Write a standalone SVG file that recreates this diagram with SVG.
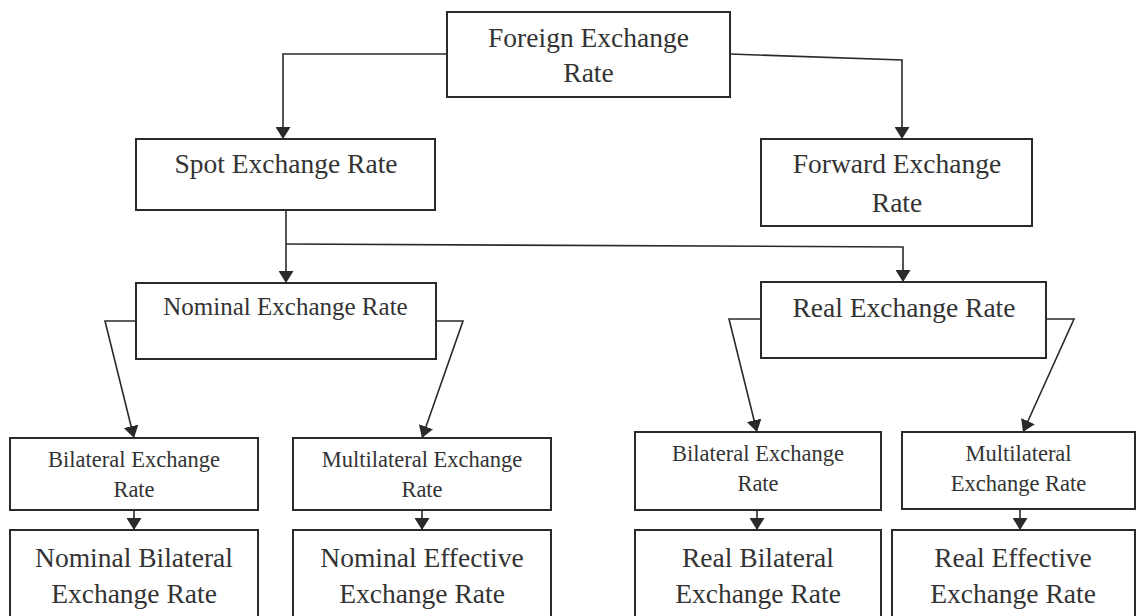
<svg xmlns="http://www.w3.org/2000/svg" width="1137" height="616" viewBox="0 0 1137 616">
<style>
.box{fill:#fff;stroke:#2a2a2a;stroke-width:2}
.t{font-family:"Liberation Serif","Times New Roman",serif;fill:#333;text-anchor:middle}
.big{font-size:27.5px}
.mid{font-size:25px}
.sm{font-size:22.5px}
.c{fill:none;stroke:#2a2a2a;stroke-width:1.6}
</style>
<defs>
<marker id="ah" markerUnits="userSpaceOnUse" markerWidth="13" markerHeight="15" refX="12" refY="7.5" orient="auto">
<path d="M0,0 L12,7.5 L0,15 Z" fill="#2a2a2a"/>
</marker>
</defs>
<rect width="1137" height="616" fill="#fff"/>
<g id="connectors">
<polyline class="c" points="447,54 283,54 283,139" marker-end="url(#ah)"/>
<polyline class="c" points="730,54 902,60 902,139" marker-end="url(#ah)"/>
<polyline class="c" points="286,210 286,283" marker-end="url(#ah)"/>
<polyline class="c" points="286,244 903,247 903,282" marker-end="url(#ah)"/>
<polyline class="c" points="136,321 105,321 134,438" marker-end="url(#ah)"/>
<polyline class="c" points="436,321 463,321 422,438" marker-end="url(#ah)"/>
<polyline class="c" points="761,319 729,319 757,432" marker-end="url(#ah)"/>
<polyline class="c" points="1046,319 1074,319 1023,432" marker-end="url(#ah)"/>
<line class="c" x1="134" y1="510" x2="134" y2="530" marker-end="url(#ah)"/>
<line class="c" x1="422" y1="510" x2="422" y2="530" marker-end="url(#ah)"/>
<line class="c" x1="757" y1="510" x2="757" y2="530" marker-end="url(#ah)"/>
<line class="c" x1="1020" y1="509" x2="1020" y2="530" marker-end="url(#ah)"/>
</g>
<g id="foreign">
<rect class="box" x="447" y="12" width="283" height="85"/>
<text class="t big" x="588.5" y="47">Foreign Exchange</text>
<text class="t big" x="588.5" y="82">Rate</text>
</g>
<g id="spot">
<rect class="box" x="136" y="139" width="299" height="71"/>
<text class="t big" x="286" y="173">Spot Exchange Rate</text>
</g>
<g id="forward">
<rect class="box" x="761" y="139" width="271" height="87"/>
<text class="t big" x="897" y="173">Forward Exchange</text>
<text class="t big" x="897" y="212">Rate</text>
</g>
<g id="nominal">
<rect class="box" x="136" y="283" width="300" height="76"/>
<text class="t mid" x="285.5" y="315">Nominal Exchange Rate</text>
</g>
<g id="real">
<rect class="box" x="761" y="282" width="285" height="76"/>
<text class="t big" x="904" y="317">Real Exchange Rate</text>
</g>
<g id="bilateral-nominal">
<rect class="box" x="10" y="438" width="248" height="72"/>
<text class="t sm" x="134" y="467">Bilateral Exchange</text>
<text class="t sm" x="134" y="497">Rate</text>
</g>
<g id="multilateral-nominal">
<rect class="box" x="293" y="438" width="258" height="72"/>
<text class="t sm" x="422" y="467">Multilateral Exchange</text>
<text class="t sm" x="422" y="497">Rate</text>
</g>
<g id="bilateral-real">
<rect class="box" x="635" y="432" width="246" height="78"/>
<text class="t sm" x="758" y="461">Bilateral Exchange</text>
<text class="t sm" x="758" y="491">Rate</text>
</g>
<g id="multilateral-real">
<rect class="box" x="902" y="432" width="233" height="77"/>
<text class="t sm" x="1018.5" y="461">Multilateral</text>
<text class="t sm" x="1018.5" y="491">Exchange Rate</text>
</g>
<g id="nominal-bilateral">
<rect class="box" x="10" y="530" width="248" height="95"/>
<text class="t big" x="134" y="567">Nominal Bilateral</text>
<text class="t big" x="134" y="603">Exchange Rate</text>
</g>
<g id="nominal-effective">
<rect class="box" x="293" y="530" width="258" height="95"/>
<text class="t big" x="422" y="567">Nominal Effective</text>
<text class="t big" x="422" y="603">Exchange Rate</text>
</g>
<g id="real-bilateral">
<rect class="box" x="635" y="530" width="246" height="95"/>
<text class="t big" x="758" y="567">Real Bilateral</text>
<text class="t big" x="758" y="603">Exchange Rate</text>
</g>
<g id="real-effective">
<rect class="box" x="892" y="530" width="243" height="95"/>
<text class="t big" x="1013" y="567">Real Effective</text>
<text class="t big" x="1013" y="603">Exchange Rate</text>
</g>
</svg>
